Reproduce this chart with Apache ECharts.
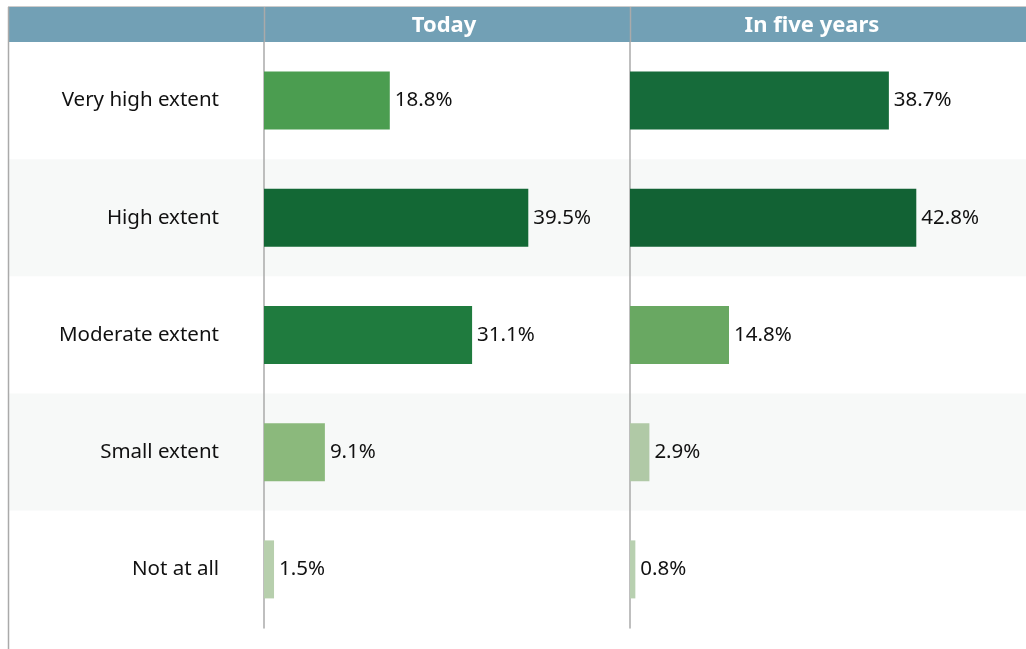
<!DOCTYPE html>
<html>
<head>
<meta charset="utf-8">
<script src="https://cdn.jsdelivr.net/npm/echarts@6/dist/echarts.min.js"></script>
<style>html,body{margin:0;padding:0;background:#fff;}#c{width:1026px;height:649px;}</style>
</head>
<body>
<div id="c"></div>
<script>
const categories = ['Very high extent', 'High extent', 'Moderate extent', 'Small extent', 'Not at all'];
const todayValues = [18.8, 39.5, 31.1, 9.1, 1.5];
const fiveYearValues = [38.7, 42.8, 14.8, 2.9, 0.8];
const columnTitles = ['Today', 'In five years'];

const todayColors = ['#4b9d50', '#136835', '#1f7b3e', '#8bb97c', '#b7cfad'];
const fiveColors = ['#166b3a', '#126234', '#69a862', '#b0c9a6', '#b8d0b0'];

const FONT = '"Noto Sans", "Open Sans", sans-serif';
const chart = echarts.init(document.getElementById('c'), null, {renderer: 'canvas'});

function barSeries(values, colors, idx) {
  return {
    type: 'bar',
    xAxisIndex: idx, yAxisIndex: idx,
    barWidth: 58,
    data: values.map((v, i) => ({value: v, itemStyle: {color: colors[i]}})),
    label: {
      show: true, position: 'right', distance: 5,
      formatter: p => p.value.toFixed(1) + '%',
      fontFamily: FONT, fontSize: 20.5, color: '#111'
    },
    silent: true,
    animation: false
  };
}

const option = {
  animation: false,
  grid: [
    {left: 8, right: 0, top: 42, height: 586, containLabel: false},
    {left: 264, width: 366, top: 42, height: 586, containLabel: false},
    {left: 630, right: 0, top: 42, height: 586, containLabel: false}
  ],
  xAxis: [
    {gridIndex: 0, type: 'value', min: 0, max: 1, show: false},
    {gridIndex: 1, type: 'value', min: 0, max: 54.7, show: false},
    {gridIndex: 2, type: 'value', min: 0, max: 59.2, show: false}
  ],
  yAxis: [
    {gridIndex: 0, type: 'category', inverse: true, data: categories,
     axisLine: {show: false}, axisTick: {show: false}, axisLabel: {show: false},
     splitLine: {show: false},
     splitArea: {show: true, areaStyle: {color: ['#ffffff', '#f7f9f8']}}},
    {gridIndex: 1, type: 'category', inverse: true, data: categories,
     axisLine: {show: true, lineStyle: {color: '#aaaaaa', width: 1.5}},
     axisTick: {show: false},
     axisLabel: {show: true, margin: 45, fontFamily: FONT, fontSize: 20.5, color: '#111'}},
    {gridIndex: 2, type: 'category', inverse: true, data: categories,
     axisLine: {show: true, lineStyle: {color: '#aaaaaa', width: 1.5}},
     axisTick: {show: false}, axisLabel: {show: false}}
  ],
  series: [
    {type: 'bar', xAxisIndex: 0, yAxisIndex: 0, data: categories.map(() => null), silent: true},
    barSeries(todayValues, todayColors, 1),
    barSeries(fiveYearValues, fiveColors, 2)
  ],
  graphic: [
    {type: 'rect', shape: {x: 8, y: 7, width: 1018, height: 35}, style: {fill: '#72a0b5'}, z: 10},
    {type: 'line', shape: {x1: 8, y1: 6.5, x2: 1026, y2: 6.5}, style: {stroke: '#cccccc', lineWidth: 1}, z: 11},
    {type: 'line', shape: {x1: 8.5, y1: 7, x2: 8.5, y2: 649}, style: {stroke: '#aaaaaa', lineWidth: 1.5}, z: 11},
    {type: 'line', shape: {x1: 264.5, y1: 7, x2: 264.5, y2: 42}, style: {stroke: '#aaaaaa', lineWidth: 1.5}, z: 11},
    {type: 'line', shape: {x1: 630.5, y1: 7, x2: 630.5, y2: 42}, style: {stroke: '#aaaaaa', lineWidth: 1.5}, z: 11},
    {type: 'text', x: 444, y: 26, z: 12,
     style: {text: columnTitles[0], fill: '#ffffff', font: 'bold 22px ' + FONT, textAlign: 'center', textVerticalAlign: 'middle'}},
    {type: 'text', x: 812, y: 26, z: 12,
     style: {text: columnTitles[1], fill: '#ffffff', font: 'bold 22px ' + FONT, textAlign: 'center', textVerticalAlign: 'middle'}}
  ]
};
chart.setOption(option);
</script>
</body>
</html>
